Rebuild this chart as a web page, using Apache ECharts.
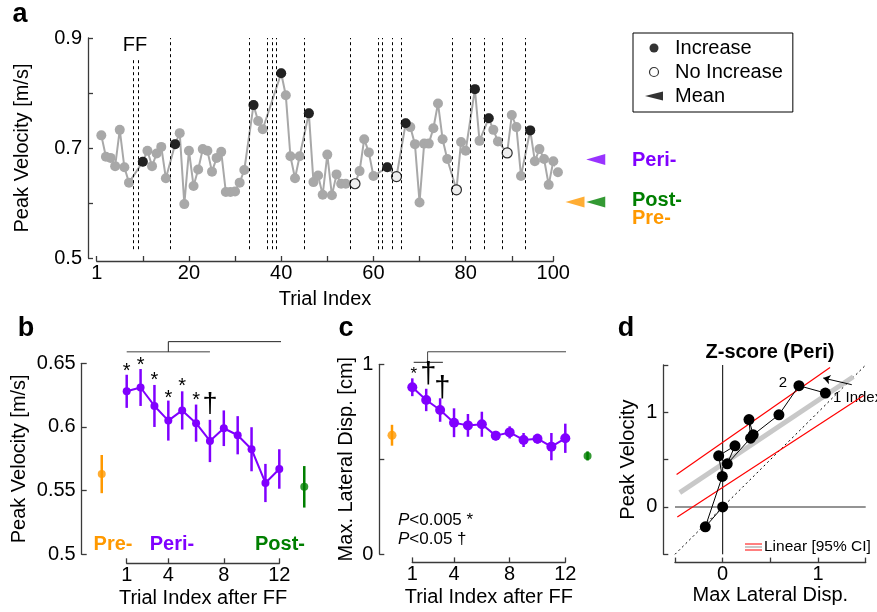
<!DOCTYPE html>
<html><head><meta charset="utf-8">
<script src="https://cdn.jsdelivr.net/npm/echarts@6/dist/echarts.min.js"></script>
<style>html,body{margin:0;padding:0;background:#fff}#c{width:877px;height:612px}</style>
</head><body><div id="c"></div>
<script>
// ---------- Panel a data ----------
const trialVel = [
  0.723,0.684,0.682,0.667,0.733,0.665,0.637,null,null,0.675,
  0.695,0.667,0.690,0.702,0.645,null,0.707,0.727,0.598,0.695,
  0.631,0.661,0.698,0.695,0.657,0.682,0.693,0.620,0.620,0.621,
  0.637,0.660,null,0.778,0.749,0.734,null,null,null,0.836,
  0.796,0.685,0.645,0.685,null,0.763,0.638,0.650,0.615,0.688,
  0.614,0.652,0.635,0.635,null,0.635,0.658,0.716,0.692,0.649,
  null,null,0.665,null,0.648,null,0.745,0.738,0.707,0.601,
  0.708,0.708,0.736,0.781,0.716,0.680,null,0.624,0.711,0.695,
  null,0.807,0.713,null,0.754,0.733,0.712,null,0.691,0.760,
  0.738,0.649,null,0.732,0.676,0.698,0.680,0.633,0.676,0.656
];
const ffTrials = [8,9,16,33,37,38,39,45,55,61,62,64,66,77,81,84,88,93];
const increaseTrials = [10,17,34,40,46,63,67,82,85,94];
const noIncreaseTrials = [56,65,78,89];
const meanNames = ['Pre-','Peri-','Post-'];
const meanVel = [0.602, 0.679, 0.602];
const meanPos = [103.7, 108.2, 108.2];
const xTickPosA = [0,10,20,30,40,50,60,70,80,90,99];
const xLabelPosA = [0,20,40,60,80,99];
const xTickLabelsA = ['1','20','40','60','80','100'];
const yTicksA = [0.5,0.6,0.7,0.8,0.9];
const yLabelsA = [0.5,0.7,0.9];

// ---------- Panel b data ----------
const trialIdx = [1,2,3,4,5,6,7,8,9,10,11,12];
const periVel = [0.628,0.631,0.6165,0.605,0.613,0.603,0.589,0.599,0.5935,0.5825,0.556,0.567];
const periVelErr = [0.013,0.0145,0.0165,0.0157,0.015,0.0146,0.0166,0.014,0.015,0.0173,0.015,0.0155];
const preVel = 0.563, preVelErr = 0.015, preVelX = -0.8;
const postVel = 0.553, postVelErr = 0.0163, postVelX = 13.8;
const sigStarB = [[1,0.6473],[2,0.6526],[3,0.6408],[4,0.6264],[5,0.6356],[6,0.6251]];
const sigDagB = [[7,0.6186]];
const xTicksBC = [1,4,8,12];
const yTicksB = [0.5,0.55,0.6,0.65];

// ---------- Panel c data ----------
const periDisp = [0.879,0.812,0.759,0.692,0.678,0.684,0.624,0.641,0.601,0.608,0.566,0.61];
const periDispErr = [0.047,0.059,0.062,0.076,0.06,0.066,0.025,0.032,0.037,0.026,0.072,0.077];
const preDisp = 0.626, preDispErr = 0.055, preDispX = -0.46;
const postDisp = 0.517, postDispErr = 0.024, postDispX = 13.6;
const sigStarC = [[1.1,0.966]];
const sigDagC = [[2.15,0.949],[3.16,0.873]];
const yTicksC = [0,0.5,1];
const yLabelsC = [0,1];

// ---------- Panel d data ----------
const zDisp = [1.077,0.80,0.59,0.32,0.276,0.293,0.048,0.129,-0.042,-0.004,-0.182,0];
const zVel  = [1.204,1.281,0.974,0.762,0.923,0.727,0.456,0.646,0.541,0.323,-0.21,0];
const fitLine = [[-0.45,0.152],[1.37,1.376]];
const ciUpper = [[-0.483,0.344],[1.126,1.474]];
const ciLower = [[-0.476,-0.105],[1.475,1.176]];
const ticksD = [-0.5,0,0.5,1,1.5];
const labelsD = [0,1];

// ---------- styles ----------
const F = "'Liberation Sans', Arial, sans-serif";
const AX = '#3a3a3a';
const PURPLE = '#8000ff', ORANGE = '#ff9900', GREEN = '#007f00', GRAY = '#a8a8a8';
const FS = 20;

function baseAxis(extra) {
  const o = {
    type:'value', splitLine:{show:false},
    axisLine:{show:true, onZero:false, lineStyle:{color:AX, width:1.3}},
    axisTick:{show:true, inside:true, length:5, lineStyle:{color:AX, width:1.3}},
    axisLabel:{fontFamily:F, fontSize:FS, color:'#000'},
    nameTextStyle:{fontFamily:F, fontSize:FS, color:'#000'},
    nameLocation:'middle'
  };
  for (const k in extra) {
    if (typeof extra[k] === 'object' && !Array.isArray(extra[k]) && o[k]) o[k] = Object.assign({}, o[k], extra[k]);
    else o[k] = extra[k];
  }
  return o;
}

const chart = echarts.init(document.getElementById('c'), null, {width:877, height:612});

function errSeries(gi, data, color, width) {
  return {
    type:'custom', xAxisIndex:gi, yAxisIndex:gi, clip:false, silent:true, z:2,
    data: data, encode:{x:0, y:[1,2]},
    renderItem:(params, api) => {
      const p1 = api.coord([api.value(0), api.value(1)]);
      const p2 = api.coord([api.value(0), api.value(2)]);
      return {type:'line', shape:{x1:p1[0], y1:p1[1], x2:p2[0], y2:p2[1]}, style:{stroke:color, lineWidth:width}};
    }
  };
}
function textSeries(gi, data, txt, size, dy) {
  return {
    type:'scatter', xAxisIndex:gi, yAxisIndex:gi, clip:false, silent:true, symbolSize:1,
    itemStyle:{color:'rgba(0,0,0,0)'}, data:data, z:5,
    label:{show:true, position:'inside', formatter:txt, fontFamily:F, fontSize:size, color:'#000', opacity:1, offset:[0,dy]}
  };
}
function lineSeries(gi, data, color, width, type, z) {
  return {type:'line', xAxisIndex:gi, yAxisIndex:gi, data:data, clip:false, silent:true, symbol:'none',
    lineStyle:{color:color, width:width, type:type || 'solid'}, z:z || 2};
}

const grayData = [];
trialVel.forEach((v,i) => { if (v !== null) grayData.push([i+1, v]); });
const incData = increaseTrials.map(t => [t, trialVel[t-1]]);
const noIncData = noIncreaseTrials.map(t => [t, trialVel[t-1]]);
const meanColors = [ORANGE, PURPLE, GREEN];
const meanData = meanNames.map((n,i) => ({name:n, value:[meanPos[i], meanVel[i]], itemStyle:{color:meanColors[i]}}));
const ffLines = ffTrials.map(t => [{coord:[t, 0.516]}, {coord:[t, (t===8||t===9) ? 0.862 : 0.9]}]);
const TRI = 'path://M0,5L10,0L10,10Z';
const TRI_LEG = 'path://M0,5L20,0L20,10Z';

const option = {
  animation:false,
  backgroundColor:'#fff',
  grid:[
    {left:96.7, top:38, width:456.6, height:220},
    {left:126.7, top:363.3, width:152.6, height:191},
    {left:412.3, top:364.3, width:153, height:189.7},
    {left:675, top:365, width:190.7, height:189.3}
  ],
  xAxis:[
    baseAxis({gridIndex:0, min:0, max:99, offset:3,
      axisTick:{customValues:xTickPosA}, axisLabel:{customValues:xLabelPosA, margin:2,
      formatter:v => xTickLabelsA[xLabelPosA.indexOf(v)]}, name:'Trial Index', nameGap:28}),
    baseAxis({gridIndex:1, min:1, max:12, offset:9,
      axisTick:{customValues:xTicksBC}, axisLabel:{customValues:xTicksBC, margin:2},
      name:'Trial Index after FF', nameGap:25}),
    baseAxis({gridIndex:2, min:1, max:12, offset:8.4,
      axisTick:{customValues:xTicksBC}, axisLabel:{customValues:xTicksBC, margin:2},
      name:'Trial Index after FF', nameGap:25}),
    baseAxis({gridIndex:3, min:-0.5, max:1.5, offset:8.3,
      axisTick:{customValues:ticksD}, axisLabel:{customValues:labelsD, margin:2},
      name:'Max Lateral Disp.', nameGap:23})
  ],
  yAxis:[
    baseAxis({gridIndex:0, min:0.5, max:0.9, offset:8.7,
      axisTick:{customValues:yTicksA}, axisLabel:{customValues:yLabelsA, margin:6, formatter:v => v.toFixed(1)},
      name:'Peak Velocity [m/s]', nameGap:56}),
    baseAxis({gridIndex:1, min:0.5, max:0.65, offset:45,
      axisTick:{customValues:yTicksB}, axisLabel:{customValues:yTicksB, margin:6, formatter:v => String(+v.toFixed(2))},
      name:'Peak Velocity [m/s]', nameGap:52}),
    baseAxis({gridIndex:2, min:0, max:1, offset:33,
      axisTick:{customValues:yTicksC}, axisLabel:{customValues:yLabelsC, margin:6},
      name:'Max. Lateral Disp. [cm]', nameGap:23}),
    baseAxis({gridIndex:3, min:-0.5, max:1.5, offset:11.7,
      axisTick:{customValues:ticksD}, axisLabel:{customValues:labelsD, margin:6},
      name:'Peak Velocity', nameGap:25})
  ],
  legend:{
    left:633, top:33, orient:'vertical', itemWidth:20, itemHeight:9, itemGap:4,
    padding:[5,10,6,12], borderColor:'#000', borderWidth:1, selectedMode:false,
    textStyle:{fontFamily:F, fontSize:20, color:'#000', lineHeight:20, padding:[0,0,0,6]},
    data:[
      {name:'Increase', icon:'circle', itemStyle:{color:'#000'}},
      {name:'No Increase', icon:'circle', itemStyle:{color:'#fff', borderColor:'#000', borderWidth:1.2}},
      {name:'Mean', icon:TRI_LEG, itemStyle:{color:'#000'}}
    ]
  },
  series:[
    // panel a
    {type:'line', name:'Trials', xAxisIndex:0, yAxisIndex:0, data:grayData, clip:false, silent:true,
      symbol:'circle', symbolSize:10, showAllSymbol:true, itemStyle:{color:GRAY}, lineStyle:{color:GRAY, width:2}, z:3,
      markLine:{silent:true, symbol:['none','none'], label:{show:false}, lineStyle:{type:[3,3], color:'#000', width:1},
        data:ffLines, animation:false}},
    {type:'scatter', name:'Increase', xAxisIndex:0, yAxisIndex:0, data:incData, clip:false, symbolSize:10,
      itemStyle:{color:'#000'}, z:4},
    {type:'scatter', name:'No Increase', xAxisIndex:0, yAxisIndex:0, data:noIncData, clip:false, symbolSize:10,
      itemStyle:{color:'#fff', borderColor:'#000', borderWidth:1.2}, z:4},
    {type:'scatter', name:'Mean', xAxisIndex:0, yAxisIndex:0, data:meanData, clip:false, symbol:TRI, symbolSize:[19,11], z:4},
    // panel b
    errSeries(1, trialIdx.map((x,i) => [x, periVel[i]-periVelErr[i], periVel[i]+periVelErr[i]]), PURPLE, 2.5),
    errSeries(1, [[preVelX, preVel-preVelErr, preVel+preVelErr]], ORANGE, 2.5),
    errSeries(1, [[postVelX, postVel-postVelErr, postVel+postVelErr]], GREEN, 2.5),
    {type:'line', xAxisIndex:1, yAxisIndex:1, data:trialIdx.map((x,i) => [x, periVel[i]]), clip:false, silent:true,
      symbol:'circle', symbolSize:8, itemStyle:{color:PURPLE}, lineStyle:{color:PURPLE, width:2}, z:3},
    {type:'scatter', xAxisIndex:1, yAxisIndex:1, data:[[preVelX, preVel]], clip:false, silent:true, symbolSize:8, itemStyle:{color:ORANGE}, z:3},
    {type:'scatter', xAxisIndex:1, yAxisIndex:1, data:[[postVelX, postVel]], clip:false, silent:true, symbolSize:8, itemStyle:{color:GREEN}, z:3},
    textSeries(1, sigStarB, '*', 20, 5),
    textSeries(1, sigDagB, '\u2020', 27, 1),
    lineSeries(1, [[1,0.659],[7,0.659]], '#808080', 1.5),
    lineSeries(1, [[4,0.659],[4,0.667],[13.9,0.667],[13.9,0.5845]], '#222', 1),
    // panel c
    errSeries(2, trialIdx.map((x,i) => [x, periDisp[i]-periDispErr[i], periDisp[i]+periDispErr[i]]), PURPLE, 2.5),
    errSeries(2, [[preDispX, preDisp-preDispErr, preDisp+preDispErr]], ORANGE, 2.5),
    errSeries(2, [[postDispX, postDisp-postDispErr, postDisp+postDispErr]], GREEN, 2.5),
    {type:'line', xAxisIndex:2, yAxisIndex:2, data:trialIdx.map((x,i) => [x, periDisp[i]]), clip:false, silent:true,
      symbol:'circle', symbolSize:10, itemStyle:{color:PURPLE}, lineStyle:{color:PURPLE, width:2}, z:3},
    {type:'scatter', xAxisIndex:2, yAxisIndex:2, data:[[preDispX, preDisp]], clip:false, silent:true, symbolSize:9, itemStyle:{color:ORANGE}, z:3},
    {type:'scatter', xAxisIndex:2, yAxisIndex:2, data:[[postDispX, postDisp]], clip:false, silent:true, symbolSize:8, itemStyle:{color:GREEN}, z:3},
    textSeries(2, sigStarC, '*', 17, 4),
    textSeries(2, sigDagC, '\u2020', 29, 1),
    lineSeries(2, [[1.1,1.0105],[3.2,1.0105]], '#222', 1),
    lineSeries(2, [[2.1,1.0105],[2.1,1.066],[13.6,1.066],[13.6,0.552]], '#444', 1),
    // panel d
    lineSeries(3, [[-0.5,0],[1.5,0]], '#707070', 1.5, 'solid', 1),
    lineSeries(3, [[0,-0.5],[0,1.5]], '#000', 1, 'solid', 1),
    lineSeries(3, [[-0.5,-0.5],[1.5,1.5]], '#000', 1, [2,3], 1),
    lineSeries(3, fitLine, '#c8c8c8', 5, 'solid', 2),
    lineSeries(3, ciUpper, '#ff0000', 1.2, 'solid', 2),
    lineSeries(3, ciLower, '#ff0000', 1.2, 'solid', 2),
    {type:'line', xAxisIndex:3, yAxisIndex:3, data:zDisp.map((x,i) => [x, zVel[i]]), clip:false, silent:true,
      symbol:'circle', symbolSize:11, itemStyle:{color:'#000'}, lineStyle:{color:'#000', width:1}, z:4,
      markLine:{silent:true, symbol:['none','arrow'], symbolSize:7, label:{show:false},
        lineStyle:{color:'#000', width:1, type:'solid'},
        data:[[{coord:[1.354,1.292]},{coord:[1.055,1.362]}]], animation:false}}
  ],
  graphic:[
    {type:'text', x:20, y:15, style:{text:'a', font:"bold 27px "+F, fill:'#000', align:'center', verticalAlign:'middle'}},
    {type:'text', x:26, y:329, style:{text:'b', font:"bold 27px "+F, fill:'#000', align:'center', verticalAlign:'middle'}},
    {type:'text', x:346, y:329, style:{text:'c', font:"bold 27px "+F, fill:'#000', align:'center', verticalAlign:'middle'}},
    {type:'text', x:626, y:329, style:{text:'d', font:"bold 27px "+F, fill:'#000', align:'center', verticalAlign:'middle'}},
    {type:'text', x:135, y:45, style:{text:'FF', font:"20px "+F, fill:'#000', align:'center', verticalAlign:'middle'}},
    {type:'text', x:632, y:160, style:{text:'Peri-', font:"bold 20px "+F, fill:PURPLE, align:'left', verticalAlign:'middle'}},
    {type:'text', x:632, y:200, style:{text:'Post-', font:"bold 20px "+F, fill:GREEN, align:'left', verticalAlign:'middle'}},
    {type:'text', x:632, y:218, style:{text:'Pre-', font:"bold 20px "+F, fill:ORANGE, align:'left', verticalAlign:'middle'}},
    {type:'text', x:113, y:544, style:{text:'Pre-', font:"bold 20px "+F, fill:ORANGE, align:'center', verticalAlign:'middle'}},
    {type:'text', x:172, y:544, style:{text:'Peri-', font:"bold 20px "+F, fill:PURPLE, align:'center', verticalAlign:'middle'}},
    {type:'text', x:280, y:544, style:{text:'Post-', font:"bold 20px "+F, fill:GREEN, align:'center', verticalAlign:'middle'}},
    {type:'text', x:398, y:520, style:{text:'{i|P}<0.005 *', font:"17px "+F, fill:'#000', align:'left', verticalAlign:'middle',
      rich:{i:{fontStyle:'italic', fontFamily:F, fontSize:17}}}},
    {type:'text', x:398, y:539, style:{text:'{i|P}<0.05 \u2020', font:"17px "+F, fill:'#000', align:'left', verticalAlign:'middle',
      rich:{i:{fontStyle:'italic', fontFamily:F, fontSize:17}}}},
    {type:'text', x:770, y:352, style:{text:'Z-score (Peri)', font:"bold 20px "+F, fill:'#000', align:'center', verticalAlign:'middle'}},
    {type:'text', x:783, y:383, style:{text:'2', font:"15px "+F, fill:'#000', align:'center', verticalAlign:'middle'}},
    {type:'text', x:833, y:398, style:{text:'1 Index', font:"15px "+F, fill:'#000', align:'left', verticalAlign:'middle'}},
    {type:'line', shape:{x1:745, y1:544, x2:762, y2:544}, style:{stroke:'#ff0000', lineWidth:1}},
    {type:'line', shape:{x1:745, y1:547, x2:762, y2:547}, style:{stroke:'#c8c8c8', lineWidth:2}},
    {type:'line', shape:{x1:745, y1:550, x2:762, y2:550}, style:{stroke:'#ff0000', lineWidth:1}},
    {type:'text', x:764, y:547, style:{text:'Linear [95% CI]', font:"15.5px "+F, fill:'#000', align:'left', verticalAlign:'middle'}}
  ]
};
chart.setOption(option);
</script>
</body></html>
